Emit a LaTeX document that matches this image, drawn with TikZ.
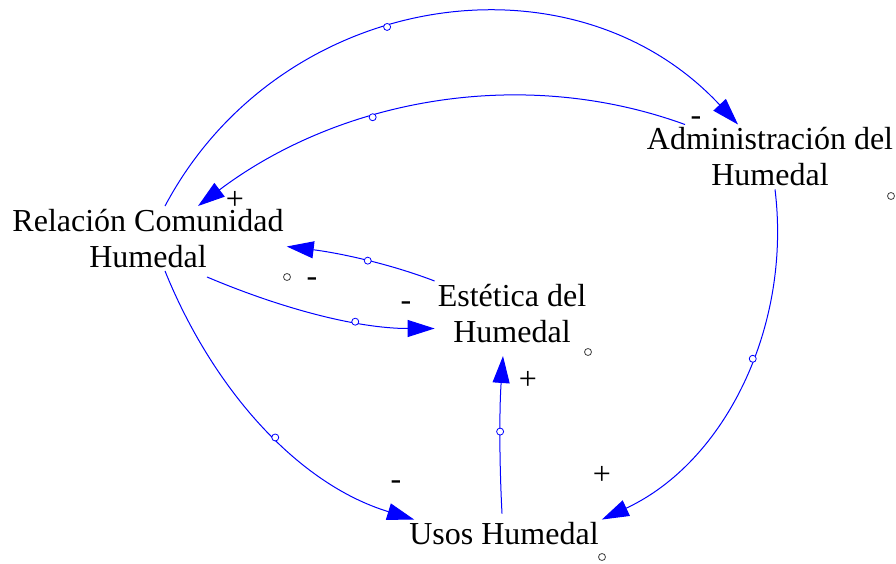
\documentclass[tikz,border=0pt]{standalone}
\usepackage{fontspec}
\setmainfont{Liberation Serif}
\usetikzlibrary{arrows.meta}
\definecolor{linkblue}{RGB}{0,0,255}
\tikzstyle{every node}=[font=\fontsize{32}{36}\selectfont]
\tikzstyle{var}=[align=center,inner sep=3pt]
\tikzstyle{link}=[draw=linkblue,line width=1pt,-{Triangle[length=27pt,width=17pt]}]
\tikzstyle{handle}=[circle,draw=linkblue,fill=white,line width=0.8pt,inner sep=0pt,minimum size=7pt]
\tikzstyle{dot}=[circle,draw=black!75,fill=white,line width=0.8pt,inner sep=0pt,minimum size=7pt]
\tikzstyle{sign}=[anchor=base,inner sep=0pt]

\begin{document}
\begin{tikzpicture}[x=1pt,y=1pt]
 \useasboundingbox (0,0) rectangle (896,563);
 \node[var] (rel) at (148,324.5) {Relación Comunidad\\Humedal};
 \node[var] (adm) at (770,406) {Administración del\\Humedal};
 \node[var] (est) at (512,249.5) {Estética del\\Humedal};
 \node[var] (usos) at (504,29) {Usos Humedal};
 \draw[link] ([xshift=17pt]rel.north) to[out=62,in=133,looseness=1.08] node[handle,pos=.43] (h1) {} ([xshift=-32pt]adm.north);
 \draw[link] ([xshift=-85pt]adm.north) to[out=160,in=37,looseness=.91] node[handle,pos=.62] (h2) {} ([xshift=50pt]rel.north);
 \draw[link] ([xshift=5pt]adm.south) to[out=-83,in=25,looseness=.94] node[handle,pos=.43] (h3) {} (usos.north east);
 \draw[link] ([xshift=17pt]rel.south) to[out=-68,in=163,looseness=.9] node[handle,pos=.55] (h4) {} ([xshift=8pt]usos.north west);
 \draw[link] ([xshift=59pt,yshift=-6pt]rel.south) to[out=-23,in=180,looseness=.86] node[handle,pos=.66] (h5) {} ([yshift=-15pt]est.west);
 \draw[link] (est.north west) to[out=159,in=-7,looseness=.85] node[handle,pos=.46] (h6) {} ([yshift=-8pt]rel.east);
 \draw[link] ([xshift=-2pt,yshift=6pt]usos.north) to[out=93,in=-94,looseness=.85] node[handle,pos=.52] (h7) {} ([xshift=-9pt,yshift=-10pt]est.south);
 \node[sign] (s1) at (696,437.5) {-};
 \node[sign] (s2) at (235,353.5) {+};
 \node[sign] (s3) at (602,78.5) {+};
 \node[sign] (s4) at (396,73.5) {-};
 \node[sign] (s5) at (406,252.5) {-};
 \node[sign] (s6) at (312,276.5) {-};
 \node[sign] (s7) at (528,173.5) {+};
 \node[dot] (d1) at (287,286) {};
 \node[dot] (d2) at (588,211) {};
 \node[dot] (d3) at (891,367) {};
 \node[dot] (d4) at (602,6) {};
\end{tikzpicture}
\end{document}
